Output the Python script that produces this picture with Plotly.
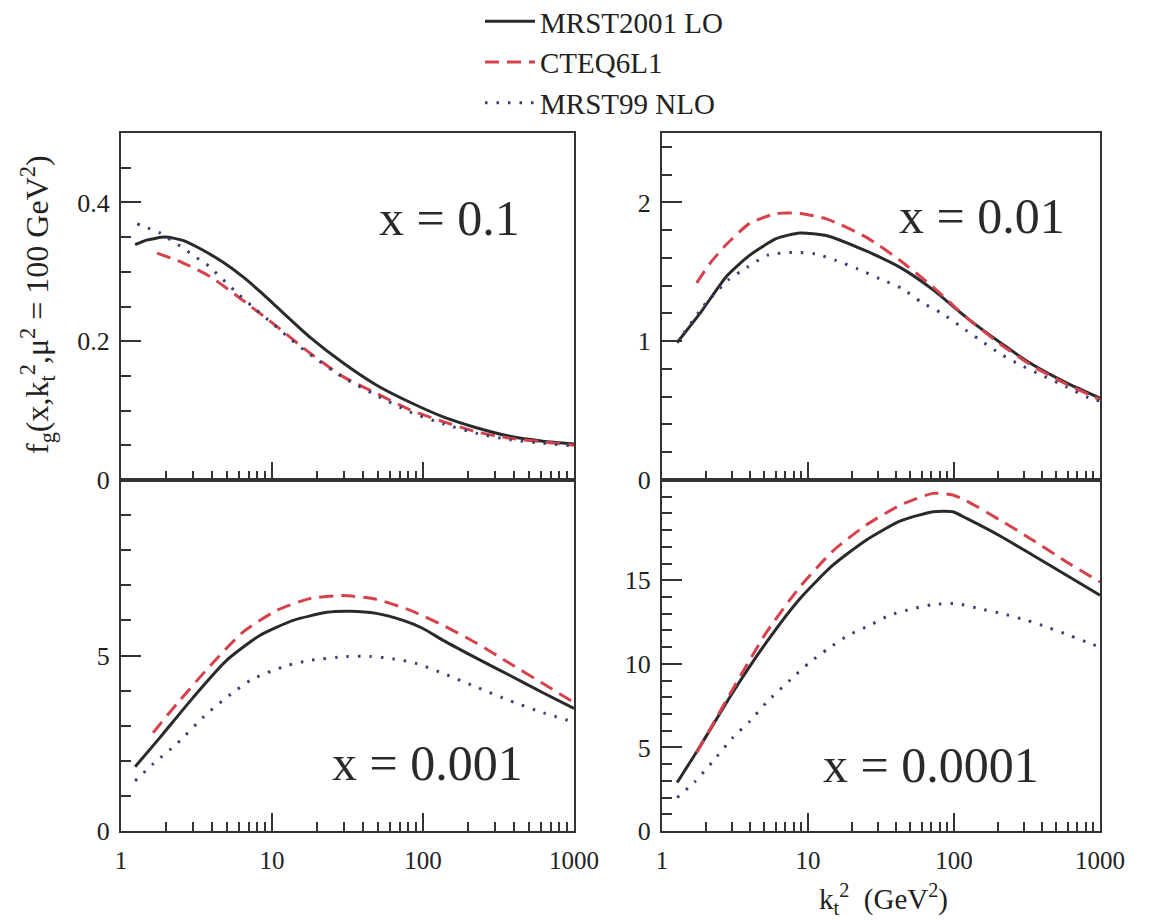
import plotly.graph_objects as go

# ---------------- data ----------------
# x = 0.1
k01_lo = [1.24, 1.5, 1.96, 2.6, 3.5, 4.8, 6.4, 8.5, 10.8, 17.8, 29.5, 49, 82, 136, 229, 377, 623, 1000]
f01_lo = [0.339, 0.346, 0.350, 0.345, 0.331, 0.313, 0.293, 0.270, 0.249, 0.206, 0.169, 0.137, 0.112, 0.091, 0.075, 0.063, 0.056, 0.052]
k01_cteq = [1.73, 2.57, 3.9, 6.4, 10.8, 17.8, 29.5, 49, 82, 136, 229, 377, 623, 1000]
f01_cteq = [0.327, 0.313, 0.293, 0.259, 0.221, 0.183, 0.149, 0.125, 0.101, 0.084, 0.069, 0.060, 0.055, 0.050]
k01_nlo = [1.28, 1.51, 1.81, 2.46, 2.87, 3.33, 3.9, 4.4, 5.0, 5.7, 7.5, 10, 13.1, 17.3, 29.5, 49, 82, 136, 229, 377, 623, 1000]
f01_nlo = [0.369, 0.363, 0.356, 0.337, 0.327, 0.317, 0.307, 0.295, 0.284, 0.272, 0.249, 0.226, 0.204, 0.183, 0.148, 0.122, 0.098, 0.081, 0.067, 0.058, 0.053, 0.049]

# x = 0.01
k001_lo = [1.27, 1.82, 2.78, 4.0, 6.1, 8.8, 13.5, 25, 43, 72, 122, 207, 347, 590, 1000]
f001_lo = [0.99, 1.20, 1.47, 1.62, 1.74, 1.78, 1.76, 1.65, 1.53, 1.37, 1.17, 0.99, 0.83, 0.70, 0.59]
k001_cteq = [1.73, 2.13, 2.78, 4.0, 6.1, 8.8, 13.5, 25, 43, 72, 122, 207, 347, 590, 1000]
f001_cteq = [1.42, 1.56, 1.70, 1.85, 1.92, 1.92, 1.88, 1.75, 1.58, 1.39, 1.17, 0.98, 0.82, 0.69, 0.58]
k001_nlo = [1.27, 1.91, 2.2, 2.83, 3.8, 5.3, 7.8, 11.2, 15.7, 22, 31, 44, 60, 83, 113, 150, 207, 283, 390, 590, 890, 1000]
f001_nlo = [0.99, 1.25, 1.32, 1.44, 1.53, 1.62, 1.64, 1.63, 1.58, 1.52, 1.45, 1.38, 1.28, 1.20, 1.10, 1.01, 0.91, 0.83, 0.76, 0.67, 0.58, 0.57]

# x = 0.001
k0001_lo = [1.24, 1.81, 3.0, 5.0, 8.3, 13.8, 23, 33, 49, 74, 100, 136, 229, 377, 623, 1000]
f0001_lo = [1.83, 2.66, 3.8, 4.86, 5.57, 6.0, 6.23, 6.26, 6.2, 6.0, 5.77, 5.43, 4.91, 4.43, 3.94, 3.49]
k0001_cteq = [1.63, 2.35, 3.9, 6.4, 10.8, 17.8, 29.5, 49, 82, 136, 229, 377, 623, 1000]
f0001_cteq = [2.8, 3.63, 4.71, 5.66, 6.29, 6.62, 6.71, 6.6, 6.29, 5.86, 5.34, 4.77, 4.2, 3.66]
k0001_nlo = [1.24, 1.63, 2.35, 3.7, 5.5, 7.5, 12.5, 17.8, 31, 45, 63, 91, 136, 229, 377, 623, 1000]
f0001_nlo = [1.43, 1.91, 2.49, 3.34, 3.94, 4.34, 4.71, 4.86, 4.97, 4.97, 4.91, 4.77, 4.49, 4.09, 3.71, 3.37, 3.1]

# x = 0.0001
k00001_lo = [1.27, 1.82, 3.06, 5.2, 8.8, 14.8, 25, 43, 72, 98, 122, 207, 347, 590, 1000]
f00001_lo = [2.9, 5.06, 8.3, 11.3, 13.9, 15.9, 17.4, 18.55, 19.1, 19.1, 18.7, 17.65, 16.5, 15.3, 14.1]
k00001_cteq = [1.73, 2.37, 3.06, 5.2, 8.8, 14.8, 25, 43, 72, 98, 122, 207, 347, 590, 1000]
f00001_cteq = [4.7, 6.8, 8.5, 11.9, 14.6, 16.75, 18.3, 19.5, 20.2, 20.1, 19.75, 18.6, 17.4, 16.1, 14.9]
k00001_nlo = [1.27, 1.68, 2.2, 3.06, 4.0, 5.2, 7.8, 10.3, 13.7, 18.8, 26.5, 36, 52, 72, 105, 150, 215, 316, 433, 620, 870, 1000]
f00001_nlo = [2.0, 2.95, 4.1, 5.6, 6.57, 7.7, 9.15, 10.1, 10.9, 11.7, 12.3, 12.9, 13.3, 13.55, 13.6, 13.3, 13.0, 12.6, 12.2, 11.7, 11.2, 11.0]

series_names = ["MRST2001 LO", "CTEQ6L1", "MRST99 NLO"]
panel_labels = ["x = 0.1", "x = 0.01", "x = 0.001", "x = 0.0001"]

# ---------------- styling ----------------
FONT = "Liberation Serif, Times New Roman, serif"
AX = "#333333"
styles = [
    dict(color="#2a2a2a", width=3, dash="solid"),
    dict(color="#d6424c", width=3, dash="14px,8px"),
    dict(color="#3b3e72", width=3, dash="2.5px,9px"),
]

# the page body has an 8px margin; work in screen pixels and convert
OFF = 8
W, H = 1149 - OFF, 920 - OFF
def px_x(p): return (p - OFF) / W
def px_y(p): return (H + OFF - p) / H

dom_left = [px_x(121), px_x(574)]
dom_right = [px_x(662), px_x(1100)]
dom_top = [px_y(480), px_y(133)]
dom_bot = [px_y(831), px_y(480)]

panels = [
    ("x3", "y3", [(k01_lo, f01_lo), (k01_cteq, f01_cteq), (k01_nlo, f01_nlo)]),
    ("x4", "y4", [(k001_lo, f001_lo), (k001_cteq, f001_cteq), (k001_nlo, f001_nlo)]),
    ("x", "y", [(k0001_lo, f0001_lo), (k0001_cteq, f0001_cteq), (k0001_nlo, f0001_nlo)]),
    ("x2", "y2", [(k00001_lo, f00001_lo), (k00001_cteq, f00001_cteq), (k00001_nlo, f00001_nlo)]),
]

fig = go.Figure()
for pi, (xa, ya, data) in enumerate(panels):
    for si, (kk, ff) in enumerate(data):
        fig.add_trace(go.Scatter(
            x=kk, y=ff, mode="lines", xaxis=xa, yaxis=ya,
            name=series_names[si], legendgroup=series_names[si],
            showlegend=(pi == 0),
            line=dict(shape="spline", smoothing=0.6, **styles[si]),
        ))

def xaxis(domain, anchor, labels):
    return dict(
        type="log", range=[0, 3], domain=domain, anchor=anchor,
        showline=True, linecolor=AX, linewidth=2, mirror=True,
        showgrid=False, zeroline=False,
        ticks="inside", ticklen=18, tickwidth=1.5, tickcolor=AX,
        tickvals=[1, 10, 100, 1000], ticktext=["1", "10", "100", "1000"],
        showticklabels=labels,
        tickfont=dict(family=FONT, size=25, color="#222"),
        ticklabelstandoff=6,
        minor=dict(ticks="inside", ticklen=9, tickwidth=1.5, tickcolor=AX,
                   dtick="D1", showgrid=False),
        automargin=False,
    )

def yaxis(domain, anchor, rng, tickvals, ticktext, minor_dtick):
    return dict(
        range=rng, domain=domain, anchor=anchor,
        showline=True, linecolor=AX, linewidth=2, mirror=True,
        showgrid=False, zeroline=False,
        ticks="inside", ticklen=20, tickwidth=1.5, tickcolor=AX,
        tickmode="array", tickvals=tickvals, ticktext=ticktext,
        tickfont=dict(family=FONT, size=26, color="#222"),
        ticklabelstandoff=4,
        minor=dict(ticks="inside", ticklen=10, tickwidth=1.5, tickcolor=AX,
                   tickmode="linear", tick0=0, dtick=minor_dtick, showgrid=False),
        automargin=False,
    )

fig.update_layout(
    width=W, height=H,
    template="none",
    paper_bgcolor="white", plot_bgcolor="white",
    margin=dict(l=0, r=0, t=0, b=0, autoexpand=False),
    font=dict(family=FONT, color="#222"),
    xaxis=xaxis(dom_left, "y", True),
    yaxis=yaxis(dom_bot, "x", [0, 10], [0, 5], ["0", "5"], 1),
    xaxis2=xaxis(dom_right, "y2", True),
    yaxis2=yaxis(dom_bot, "x2", [0, 21], [0, 5, 10, 15], ["0", "5", "10", "15"], 1),
    xaxis3=xaxis(dom_left, "y3", False),
    yaxis3=yaxis(dom_top, "x3", [0, 0.5], [0, 0.2, 0.4], ["0", "0.2", "0.4"], 0.05),
    xaxis4=xaxis(dom_right, "y4", False),
    yaxis4=yaxis(dom_top, "x4", [0, 2.5], [0, 1, 2], ["0", "1", "2"], 0.2),
    showlegend=True,
    legend=dict(
        x=px_x(480), y=px_y(-4), xanchor="left", yanchor="top",
        font=dict(family=FONT, size=29, color="#222"),
        bgcolor="rgba(0,0,0,0)", borderwidth=0, tracegroupgap=0,
        itemwidth=50,
    ),
)

ann_pos = [(449, 218), (982, 216), (427, 763), (931, 765)]
for (ax_, ay_), txt in zip(ann_pos, panel_labels):
    fig.add_annotation(
        x=px_x(ax_), y=px_y(ay_), xref="paper", yref="paper",
        text=txt, showarrow=False, xanchor="center", yanchor="middle",
        font=dict(family=FONT, size=50, color="#2a2a2a"),
    )

fig.add_annotation(
    x=px_x(37), y=px_y(305), xref="paper", yref="paper",
    text="f<sub>g</sub>(x,k<sub>t</sub><sup>2</sup>,μ<sup>2</sup> = 100 GeV<sup>2</sup>)",
    textangle=-90, showarrow=False, xanchor="center", yanchor="middle",
    font=dict(family=FONT, size=32, color="#222"),
)
fig.add_annotation(
    x=px_x(884), y=px_y(899), xref="paper", yref="paper",
    text="k<sub>t</sub><sup>2</sup>  (GeV<sup>2</sup>)",
    showarrow=False, xanchor="center", yanchor="middle",
    font=dict(family=FONT, size=29, color="#222"),
)

fig.write_html("out.html")
